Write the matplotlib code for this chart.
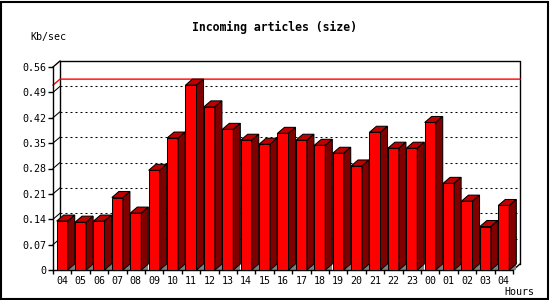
import numpy as np
import matplotlib
matplotlib.use("Agg")
import matplotlib.pyplot as plt
from matplotlib.patches import Polygon, Rectangle

# data
hours = ['04', '05', '06', '07', '08', '09', '10', '11', '12', '13', '14', '15', '16',
         '17', '18', '19', '20', '21', '22', '23', '00', '01', '02', '03', '04']
kb_per_sec = [0.135, 0.132, 0.135, 0.200, 0.157, 0.275, 0.364, 0.510, 0.450, 0.388,
              0.358, 0.347, 0.377, 0.358, 0.344, 0.322, 0.287, 0.380, 0.336, 0.336,
              0.407, 0.239, 0.190, 0.120, 0.178]
y_ticks = [0, 0.07, 0.14, 0.21, 0.28, 0.35, 0.42, 0.49, 0.56]
y_labels = ['0', '0.07', '0.14', '0.21', '0.28', '0.35', '0.42', '0.49', '0.56']

W, H = 550, 300
fig = plt.figure(figsize=(W / 100, H / 100), dpi=100)
fig.patch.set_facecolor('white')
fig.patches.append(Rectangle((1 / W, 1 / H), 547 / W, 297 / H, transform=fig.transFigure,
                             fill=False, ec='black', lw=1.5))

ax = fig.add_axes([53 / W, 30 / H, 460 / W, 203 / H])
n = len(hours)
ymax = y_ticks[-1]
ax.set_xlim(0, n)
ax.set_ylim(0, ymax)
ax.patch.set_alpha(0)

# 3d depth, in data units (7px right, 6px up)
dx = 7 / (460 / n)
dy = 6 / (203 / ymax)

mono = 'DejaVu Sans Mono'
for s in ['top', 'right']:
    ax.spines[s].set_visible(False)
ax.spines['left'].set_linewidth(1)
ax.spines['bottom'].set_linewidth(1)

ax.set_yticks(y_ticks)
ax.set_yticklabels(y_labels, family=mono, fontsize=7.2)
ax.tick_params(axis='y', length=3.6, width=1, pad=1.5)
ax.set_xticks(np.arange(n + 1))
ax.set_xticklabels([])
ax.set_xticks(np.arange(n) + 0.5, minor=True)
ax.set_xticklabels(hours, minor=True, family=mono, fontsize=7.2)
ax.tick_params(axis='x', which='major', length=3, width=1)
ax.tick_params(axis='x', which='minor', length=0, pad=4)

# back frame
kw = dict(color='black', lw=1, clip_on=False, zorder=1)
ax.plot([dx, dx, n + dx, n + dx], [dy, ymax + dy, ymax + dy, dy], **kw)
ax.plot([0, dx], [ymax, ymax + dy], **kw)
ax.plot([n, n + dx], [0, dy], **kw)

# grid on the back wall
for v in y_ticks[1:-1]:
    ax.plot([dx, n + dx], [v + dy, v + dy], color='black', lw=0.75,
            dashes=(1.9, 2.9), clip_on=False, zorder=1)
    ax.plot([0, dx], [v, v + dy], color='black', lw=0.75, clip_on=False, zorder=1)

# max line
top = max(kb_per_sec)
ax.plot([0, dx, n + dx], [top, top + dy, top + dy], color='red', lw=1, clip_on=False, zorder=1.5)

# 3d bars
for i, v in enumerate(kb_per_sec):
    x0, x1 = i + 0.2, i + 0.8
    ax.add_patch(Polygon([(x1, 0), (x1 + dx, 0), (x1 + dx, dy)], closed=True,
                         fc='#808080', ec='none', clip_on=False, zorder=2))
    ax.add_patch(Polygon([(x0, 0), (x1, 0), (x1, v), (x0, v)], closed=True,
                         fc='#ff0000', ec='black', lw=0.75, clip_on=False, zorder=3))
    ax.add_patch(Polygon([(x0, v), (x1, v), (x1 + dx, v + dy), (x0 + dx, v + dy)], closed=True,
                         fc='#c00000', ec='black', lw=0.75, clip_on=False, zorder=3))
    ax.add_patch(Polygon([(x1, 0), (x1 + dx, dy), (x1 + dx, v + dy), (x1, v)], closed=True,
                         fc='#800000', ec='black', lw=0.75, clip_on=False, zorder=3))

fig.text(274 / W, 1 - 27 / H, 'Incoming articles (size)', family=mono, weight='bold',
         fontsize=8.3, ha='center', va='center')
fig.text(30 / W, 1 - 37 / H, 'Kb/sec', family=mono, fontsize=7.2, ha='left', va='center')
fig.text(534 / W, 1 - 292 / H, 'Hours', family=mono, fontsize=7.2, ha='right', va='center')

fig.savefig('out.png', dpi=100)
